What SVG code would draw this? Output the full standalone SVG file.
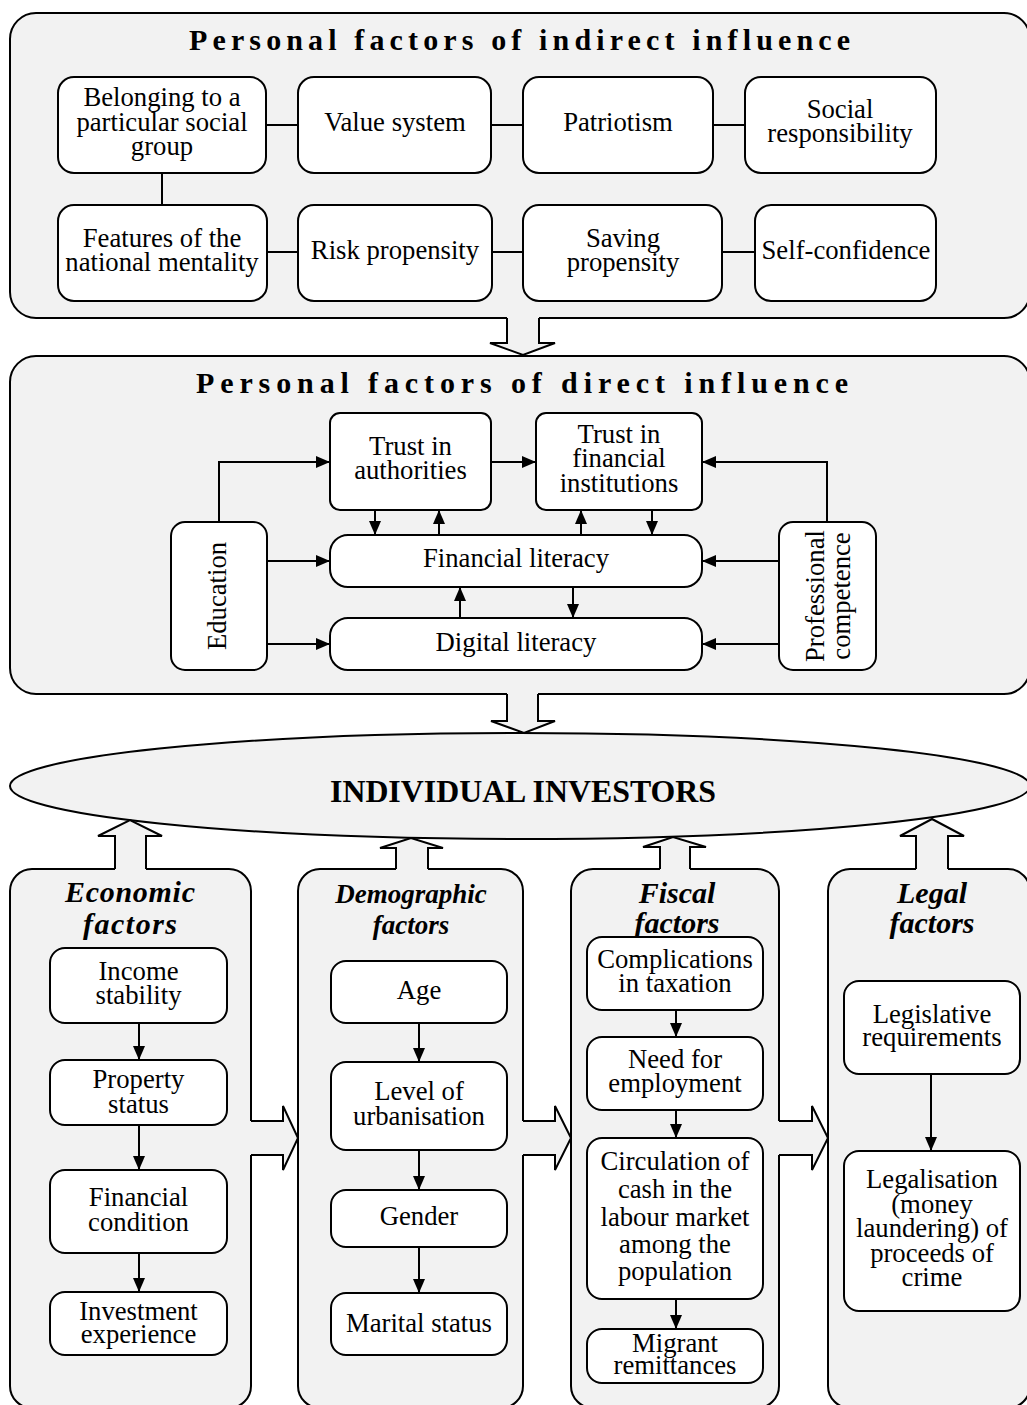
<svg xmlns="http://www.w3.org/2000/svg" width="1027" height="1405" viewBox="0 0 1027 1405">
<defs>
<marker id="ah" viewBox="0 0 14 12" refX="14" refY="6" markerWidth="14" markerHeight="12" markerUnits="userSpaceOnUse" orient="auto">
<path d="M0,0 L14,6 L0,12 z" fill="#000"/>
</marker>
<style>
.panel{fill:#f2f2f2;stroke:#000;stroke-width:2}
.node{fill:#fff;stroke:#000;stroke-width:2}
.t{font-family:"Liberation Serif","Times New Roman",serif;font-size:26.7px;fill:#000;text-anchor:middle}
.title{font-family:"Liberation Serif","Times New Roman",serif;font-size:30px;font-weight:bold;fill:#000;text-anchor:middle}
.ct{font-family:"Liberation Serif","Times New Roman",serif;font-size:30px;font-weight:bold;font-style:italic;fill:#000;text-anchor:middle}
.ln{fill:none;stroke:#000;stroke-width:2}
.ar{fill:none;stroke:#000;stroke-width:2;marker-end:url(#ah)}
.bf{fill:#f2f2f2;stroke:none}
.bs{fill:none;stroke:#000;stroke-width:2;stroke-linejoin:miter}
</style>
</defs>
<rect width="1027" height="1405" fill="#fff"/>

<!-- Panels -->
<g id="panel-indirect">
<rect class="panel" x="10" y="13" width="1020" height="305" rx="26"/>
<text class="title" x="519.5" y="50" textLength="661" lengthAdjust="spacing">Personal factors of indirect influence</text>
</g>
<g id="panel-direct">
<rect class="panel" x="10" y="356" width="1020" height="338" rx="26"/>
<text class="title" x="522" y="393" textLength="652" lengthAdjust="spacing">Personal factors of direct influence</text>
</g>
<g id="investors">
<ellipse class="panel" cx="520" cy="786" rx="510" ry="53"/>
<text x="523" y="802" font-family="'Liberation Serif','Times New Roman',serif" font-size="32" font-weight="bold" text-anchor="middle" textLength="386" lengthAdjust="spacingAndGlyphs">INDIVIDUAL INVESTORS</text>
</g>
<g id="col-economic">
<rect class="panel" x="10" y="869" width="241" height="539" rx="22"/>
<text class="ct" x="130" y="902" textLength="130" lengthAdjust="spacing">Economic</text>
<text class="ct" x="130" y="934" textLength="94" lengthAdjust="spacing">factors</text>
</g>
<g id="col-demographic">
<rect class="panel" x="298" y="869" width="225" height="539" rx="22"/>
<text class="ct" x="411" y="903" style="font-size:27px">Demographic</text>
<text class="ct" x="411" y="934" style="font-size:27px">factors</text>
</g>
<g id="col-fiscal">
<rect class="panel" x="571" y="869" width="208" height="539" rx="22"/>
<text class="ct" x="677" y="903">Fiscal</text>
<text class="ct" x="677" y="933">factors</text>
</g>
<g id="col-legal">
<rect class="panel" x="828" y="869" width="202" height="539" rx="22"/>
<text class="ct" x="932" y="903">Legal</text>
<text class="ct" x="932" y="933">factors</text>
</g>

<!-- Block arrows -->
<g id="block-arrows">
<polygon class="bf" points="507,315 507,343 490,343 523,355 555,343 539,343 539,315"/>
<path class="bs" d="M507,318 V343 H490 L523,355 L555,343 H539 V318"/>
<polygon class="bf" points="507,691 507,721 491,721 524,733 555,721 538,721 538,691"/>
<path class="bs" d="M507,694 V721 H491 L524,733 L555,721 H538 V694"/>
<polygon class="bf" points="115,872 115,836 98,836 130,820 162,836 146,836 146,872"/>
<path class="bs" d="M115,869 V836 H98 L130,820 L162,836 H146 V869"/>
<polygon class="bf" points="396,872 396,848 380,848 411,838 443,848 428,848 428,872"/>
<path class="bs" d="M396,869 V848 H380 L411,838 L443,848 H428 V869"/>
<polygon class="bf" points="660,872 660,847 643,847 673,837 706,847 690,847 690,872"/>
<path class="bs" d="M660,869 V847 H643 L673,837 L706,847 H690 V869"/>
<polygon class="bf" points="916,872 916,836 900,836 932,819 964,836 948,836 948,872"/>
<path class="bs" d="M916,869 V836 H900 L932,819 L964,836 H948 V869"/>
<polygon class="bf" points="248,1121 283,1121 283,1106 298,1138 283,1170 283,1155 248,1155"/>
<path class="bs" d="M251,1121 H283 V1106 L298,1138 L283,1170 V1155 H251"/>
<polygon class="bf" points="520,1121 555,1121 555,1106 571,1138 555,1170 555,1155 520,1155"/>
<path class="bs" d="M523,1121 H555 V1106 L571,1138 L555,1170 V1155 H523"/>
<polygon class="bf" points="776,1121 812,1121 812,1106 828,1138 812,1170 812,1155 776,1155"/>
<path class="bs" d="M779,1121 H812 V1106 L828,1138 L812,1170 V1155 H779"/>
</g>

<!-- Connectors -->
<g id="connectors">
<path class="ln" d="M266,125 H298 M491,125 H523 M713,125 H745 M267,252 H298 M492,252 H523 M722,252 H755 M162,173 V205"/>
<path class="ar" d="M219,522 V462 H330"/>
<path class="ar" d="M491,462 H536"/>
<path class="ar" d="M827,522 V462 H702"/>
<path class="ar" d="M375,510 V535"/>
<path class="ar" d="M439,535 V510"/>
<path class="ar" d="M581,535 V510"/>
<path class="ar" d="M652,510 V535"/>
<path class="ar" d="M267,561 H330"/>
<path class="ar" d="M267,644 H330"/>
<path class="ar" d="M779,561 H702"/>
<path class="ar" d="M779,644 H702"/>
<path class="ar" d="M460,618 V587"/>
<path class="ar" d="M573,587 V618"/>
<path class="ar" d="M139,1023 V1060"/>
<path class="ar" d="M139,1125 V1170"/>
<path class="ar" d="M139,1253 V1292"/>
<path class="ar" d="M419,1023 V1062"/>
<path class="ar" d="M419,1150 V1190"/>
<path class="ar" d="M419,1247 V1293"/>
<path class="ar" d="M676,1010 V1037"/>
<path class="ar" d="M676,1110 V1138"/>
<path class="ar" d="M676,1299 V1329"/>
<path class="ar" d="M931,1074 V1151"/>
</g>

<!-- Top nodes -->
<g id="n-belonging"><rect class="node" x="58" y="77" width="208" height="96" rx="16"/>
<text class="t" x="162" y="106">Belonging to a</text><text class="t" x="162" y="131">particular social</text><text class="t" x="162" y="155">group</text></g>
<g id="n-value"><rect class="node" x="298" y="77" width="193" height="96" rx="16"/>
<text class="t" x="395" y="131">Value system</text></g>
<g id="n-patriotism"><rect class="node" x="523" y="77" width="190" height="96" rx="16"/>
<text class="t" x="618" y="131">Patriotism</text></g>
<g id="n-social"><rect class="node" x="745" y="77" width="191" height="96" rx="16"/>
<text class="t" x="840" y="118">Social</text><text class="t" x="840" y="142">responsibility</text></g>
<g id="n-features"><rect class="node" x="58" y="205" width="209" height="96" rx="16"/>
<text class="t" x="162" y="247">Features of the</text><text class="t" x="162" y="271">national mentality</text></g>
<g id="n-risk"><rect class="node" x="298" y="205" width="194" height="96" rx="16"/>
<text class="t" x="395" y="259">Risk propensity</text></g>
<g id="n-saving"><rect class="node" x="523" y="205" width="199" height="96" rx="16"/>
<text class="t" x="623" y="247">Saving</text><text class="t" x="623" y="271">propensity</text></g>
<g id="n-selfconf"><rect class="node" x="755" y="205" width="181" height="96" rx="16"/>
<text class="t" x="846" y="259">Self-confidence</text></g>

<!-- Middle nodes -->
<g id="n-trust-auth"><rect class="node" x="330" y="413" width="161" height="97" rx="10"/>
<text class="t" x="410.5" y="455">Trust in</text><text class="t" x="410.5" y="479">authorities</text></g>
<g id="n-trust-fin"><rect class="node" x="536" y="413" width="166" height="97" rx="10"/>
<text class="t" x="619" y="443">Trust in</text><text class="t" x="619" y="467">financial</text><text class="t" x="619" y="492">institutions</text></g>
<g id="n-education"><rect class="node" x="171" y="522" width="96" height="148" rx="14"/>
<text class="t" x="226" y="596" transform="rotate(-90 226 596)">Education</text></g>
<g id="n-professional"><rect class="node" x="779" y="522" width="97" height="148" rx="14"/>
<text class="t" x="824" y="596" transform="rotate(-90 824 596)">Professional</text>
<text class="t" x="850" y="596" transform="rotate(-90 850 596)">competence</text></g>
<g id="n-finlit"><rect class="node" x="330" y="535" width="372" height="52" rx="18"/>
<text class="t" x="516" y="567">Financial literacy</text></g>
<g id="n-diglit"><rect class="node" x="330" y="618" width="372" height="52" rx="18"/>
<text class="t" x="516" y="651">Digital literacy</text></g>

<!-- Economic nodes -->
<g id="n-income"><rect class="node" x="50" y="948" width="177" height="75" rx="15"/>
<text class="t" x="138.5" y="980">Income</text><text class="t" x="138.5" y="1004">stability</text></g>
<g id="n-property"><rect class="node" x="50" y="1060" width="177" height="65" rx="15"/>
<text class="t" x="138.5" y="1088">Property</text><text class="t" x="138.5" y="1113">status</text></g>
<g id="n-fincond"><rect class="node" x="50" y="1170" width="177" height="83" rx="15"/>
<text class="t" x="138.5" y="1206">Financial</text><text class="t" x="138.5" y="1231">condition</text></g>
<g id="n-invexp"><rect class="node" x="50" y="1292" width="177" height="63" rx="15"/>
<text class="t" x="138.5" y="1320">Investment</text><text class="t" x="138.5" y="1343">experience</text></g>

<!-- Demographic nodes -->
<g id="n-age"><rect class="node" x="331" y="961" width="176" height="62" rx="15"/>
<text class="t" x="419" y="999">Age</text></g>
<g id="n-urban"><rect class="node" x="331" y="1062" width="176" height="88" rx="15"/>
<text class="t" x="419" y="1100">Level of</text><text class="t" x="419" y="1125">urbanisation</text></g>
<g id="n-gender"><rect class="node" x="331" y="1190" width="176" height="57" rx="15"/>
<text class="t" x="419" y="1225">Gender</text></g>
<g id="n-marital"><rect class="node" x="331" y="1293" width="176" height="62" rx="15"/>
<text class="t" x="419" y="1332">Marital status</text></g>

<!-- Fiscal nodes -->
<g id="n-complications"><rect class="node" x="587" y="937" width="176" height="73" rx="15"/>
<text class="t" x="675" y="968">Complications</text><text class="t" x="675" y="992">in taxation</text></g>
<g id="n-employment"><rect class="node" x="587" y="1037" width="176" height="73" rx="15"/>
<text class="t" x="675" y="1068">Need for</text><text class="t" x="675" y="1092">employment</text></g>
<g id="n-circulation"><rect class="node" x="587" y="1138" width="176" height="161" rx="15"/>
<text class="t" x="675" y="1170">Circulation of</text><text class="t" x="675" y="1198">cash in the</text><text class="t" x="675" y="1226">labour market</text><text class="t" x="675" y="1253">among the</text><text class="t" x="675" y="1280">population</text></g>
<g id="n-migrant"><rect class="node" x="587" y="1329" width="176" height="54" rx="15"/>
<text class="t" x="675" y="1352">Migrant</text><text class="t" x="675" y="1374">remittances</text></g>

<!-- Legal nodes -->
<g id="n-legislative"><rect class="node" x="844" y="981" width="176" height="93" rx="15"/>
<text class="t" x="932" y="1023">Legislative</text><text class="t" x="932" y="1046">requirements</text></g>
<g id="n-legalisation"><rect class="node" x="844" y="1151" width="176" height="160" rx="15"/>
<text class="t" x="932" y="1188">Legalisation</text><text class="t" x="932" y="1213">(money</text><text class="t" x="932" y="1237">laundering) of</text><text class="t" x="932" y="1262">proceeds of</text><text class="t" x="932" y="1286">crime</text></g>
</svg>
